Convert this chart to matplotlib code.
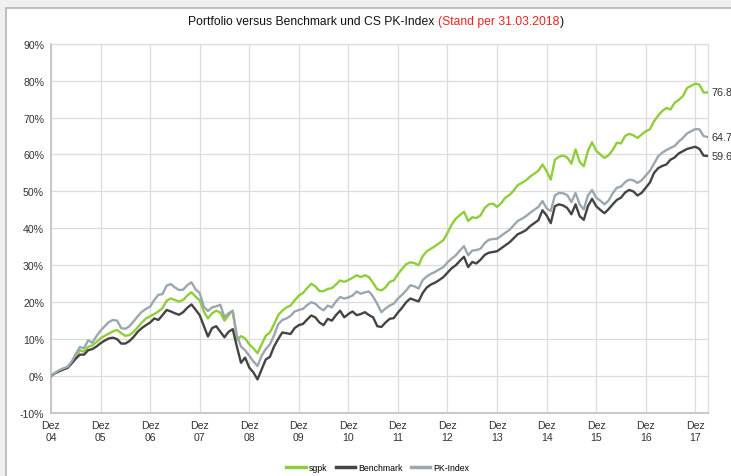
import matplotlib
matplotlib.use("Agg")
import matplotlib.pyplot as plt
from matplotlib.patches import Rectangle
import numpy as np

plt.rcParams['font.family'] = ['Liberation Sans', 'DejaVu Sans']

# monthly cumulative performance in %, Dez 2004 .. Mar 2018
sgpk = [0.0, 0.8, 1.4, 1.9, 2.3, 3.8, 5.3, 7.0, 6.6, 7.9, 8.3, 9.2,
        10.2, 10.9, 11.5, 12.1, 12.5, 11.6, 10.9, 11.1, 12.0, 13.2, 14.5, 15.6,
        16.2, 16.8, 17.5, 18.4, 20.4, 21.0, 20.6, 20.2, 20.6, 21.8, 22.7, 21.5,
        20.5, 17.5, 15.6, 17.0, 17.7, 17.2, 15.0, 16.5, 17.7, 9.8, 10.8, 10.2,
        8.6, 7.5, 6.2, 8.6, 10.9, 11.8, 14.0, 16.5, 17.7, 18.6, 19.1, 20.5,
        21.8, 22.5, 23.8, 25.0, 24.3, 23.0, 23.0, 23.6, 23.8, 24.8, 25.9, 25.5,
        26.0, 26.6, 27.3, 26.8, 27.3, 26.8, 25.2, 23.5, 23.2, 24.0, 25.5, 25.9,
        27.6, 29.0, 30.3, 30.8, 30.6, 30.0, 32.5, 33.8, 34.5, 35.2, 36.0, 36.8,
        38.8, 41.0, 42.6, 43.6, 44.5, 42.0, 43.0, 42.8, 43.5, 45.5, 46.5, 46.7,
        45.8, 46.8, 48.3, 49.0, 50.2, 51.7, 52.3, 53.0, 54.0, 54.8, 55.6, 57.3,
        55.5, 53.2, 58.6, 59.4, 59.7, 59.2, 57.5, 61.4, 58.0, 56.8, 61.0, 63.3,
        61.0, 60.0, 59.1, 59.8, 61.2, 63.2, 63.0, 65.0, 65.6, 65.2, 64.5, 65.4,
        66.3, 66.8, 69.0, 70.5, 71.8, 72.6, 72.2, 74.0, 74.8, 75.8, 78.0, 78.6,
        79.2, 78.9, 76.8, 76.8]

benchmark = [0.0, 0.8, 1.3, 1.8, 2.2, 3.4, 4.7, 5.8, 5.8, 7.0, 7.3, 8.0,
             8.9, 9.6, 10.2, 10.4, 10.0, 8.8, 8.8, 9.5, 10.6, 12.0, 13.0, 13.8,
             14.5, 15.6, 15.2, 16.5, 17.9, 17.5, 17.0, 16.6, 17.3, 18.5, 19.4, 18.0,
             16.5, 13.6, 10.7, 13.0, 13.5, 12.0, 10.5, 12.0, 12.7, 8.0, 3.6, 5.0,
             2.3, 1.0, -0.9, 1.8, 4.5, 5.2, 8.0, 10.0, 11.8, 11.6, 11.4, 13.0,
             13.8, 14.1, 15.3, 16.4, 15.9, 14.5, 13.8, 15.5, 15.0, 16.5, 17.7, 15.9,
             16.8, 17.5, 16.5, 16.8, 17.3, 16.5, 15.9, 13.5, 13.3, 14.5, 15.5, 15.7,
             17.2, 18.5, 20.0, 21.0, 20.6, 20.2, 22.5, 24.0, 24.8, 25.3, 26.0, 26.8,
             28.0, 29.2, 30.0, 31.2, 32.3, 29.5, 30.9, 30.5, 31.5, 32.8, 33.4, 33.6,
             33.8, 34.6, 35.4, 36.2, 37.3, 38.4, 38.9, 39.5, 40.6, 41.4, 42.2, 44.9,
             43.5, 41.4, 46.0, 46.5, 46.2, 45.5, 43.8, 46.5, 43.3, 42.3, 46.0, 48.0,
             46.0, 45.0, 44.1, 45.2, 46.5, 47.7, 48.3, 49.7, 50.4, 50.0, 48.9, 49.6,
             51.0, 52.4, 55.0, 56.3, 56.9, 57.3, 58.6, 59.2, 60.3, 60.9, 61.5, 61.8,
             62.1, 61.5, 59.7, 59.6]

pk_index = [0.0, 0.9, 1.6, 2.1, 2.5, 3.9, 6.0, 7.9, 7.5, 9.7, 9.0, 10.8,
            12.3, 13.5, 14.6, 15.2, 15.0, 13.0, 12.8, 13.5, 14.8, 16.2, 17.4, 18.2,
            18.8, 20.6, 22.0, 22.2, 24.5, 24.9, 24.0, 23.3, 23.4, 24.6, 25.4, 23.5,
            22.5, 18.8, 17.6, 18.6, 18.9, 19.3, 15.9, 17.0, 17.7, 11.0, 8.0, 7.0,
            5.5, 4.0, 2.7, 5.5, 7.3, 8.6, 11.0, 14.0, 15.2, 15.6, 16.3, 17.5,
            17.9, 18.2, 19.2, 20.0, 19.6, 18.5, 17.8, 19.1, 18.6, 20.2, 21.4, 21.0,
            21.3, 21.8, 22.9, 22.3, 22.7, 22.9, 21.5, 19.5, 17.3, 18.3, 19.1, 19.6,
            21.0, 22.0, 23.2, 24.6, 24.3, 23.7, 26.0, 27.0, 27.7, 28.2, 28.9, 29.5,
            30.8, 31.8, 32.7, 34.0, 35.2, 32.7, 34.0, 34.1, 34.5, 36.0, 36.9, 37.1,
            37.2, 38.0, 38.8, 39.6, 40.8, 42.0, 42.6, 43.3, 44.2, 45.0, 45.8, 47.4,
            45.4, 44.7, 48.9, 49.6, 49.5, 49.0, 47.1, 49.6, 46.5, 45.1, 48.9, 50.4,
            48.3, 47.5, 46.5, 47.5, 49.5, 51.0, 51.3, 52.5, 53.2, 53.0, 52.3, 53.0,
            54.3, 55.6, 57.5, 59.5, 60.5, 61.2, 61.8, 62.3, 63.5, 64.5, 65.7, 66.3,
            66.9, 66.8, 65.0, 64.7]

years = ["04", "05", "06", "07", "08", "09", "10", "11", "12", "13", "14", "15", "16", "17"]
end_labels = ["76.8%", "59.6%", "64.7%"]

series = [("sgpk", sgpk, "#8fce3a"),
          ("Benchmark", benchmark, "#444444"),
          ("PK-Index", pk_index, "#9ba7b0")]

fig = plt.figure(figsize=(7.31, 4.77), dpi=100, facecolor="#f0f0f0")
# white panel with border, behind everything
fig.patches.append(Rectangle((6 / 731, -0.05), 1.1, 1 - 9 / 477 + 0.05,
                             transform=fig.transFigure, facecolor="white",
                             edgecolor="#b4b4b4", linewidth=1.2, zorder=-10))

ax = fig.add_axes([51 / 731, 1 - 414 / 477, (707.7 - 51) / 731, (414 - 44.7) / 477])
ax.set_facecolor("white")

n = len(sgpk)
months = np.arange(n)
for (name, vals, col), lab in zip(series, end_labels):
    ax.plot(months, vals, color=col, lw=1.7, label=name, zorder=3)
    ax.annotate(lab, (months[-1], vals[-1]), xytext=(2.5, 0), textcoords="offset points",
                va="center", ha="left", fontsize=7.8, color="#333333",
                annotation_clip=False)

ax.set_xlim(0, n - 1)
ax.set_ylim(-10, 90)
ax.set_yticks(np.arange(-10, 91, 10))
ax.set_yticklabels([f"{v}%" for v in range(-10, 91, 10)])
ax.set_xticks(np.arange(len(years)) * 12)
ax.set_xticklabels([f"Dez\n{y}" for y in years], linespacing=1.25)
ax.tick_params(length=0, labelsize=7.6, colors="#333333", pad=5)
ax.grid(True, color="#dcdcdc", lw=0.9)
ax.set_axisbelow(True)
for s in ["left", "bottom"]:
    ax.spines[s].set_color("#c4c4c4")
    ax.spines[s].set_linewidth(1.3)
for s in ["top", "right"]:
    ax.spines[s].set_color("#dcdcdc")
    ax.spines[s].set_linewidth(0.9)

leg = fig.legend(loc="center", bbox_to_anchor=(378 / 731, 1 - 469 / 477), ncol=3,
                 frameon=False, fontsize=6.3, handlelength=2.2, handletextpad=0.4,
                 columnspacing=0.9)
for h in leg.get_lines():
    h.set_linewidth(2.5)

# title in two colours
ty = 1 - 22 / 477
parts = [("Portfolio versus Benchmark und CS PK-Index ", "#111111"),
         ("(Stand per 31.03.2018", "#ee2222"),
         (")", "#111111")]
fig.canvas.draw()
r = fig.canvas.get_renderer()
texts = []
x = 0
for txt, col in parts:
    t = fig.text(x, ty, txt, color=col, fontsize=8.7, va="center", ha="left")
    w = t.get_window_extent(renderer=r).width / fig.bbox.width
    texts.append((t, x))
    x += w
x0 = 376 / 731 - x / 2
for t, off in texts:
    t.set_x(x0 + off)

fig.savefig("out.png", dpi=100, facecolor=fig.get_facecolor())
